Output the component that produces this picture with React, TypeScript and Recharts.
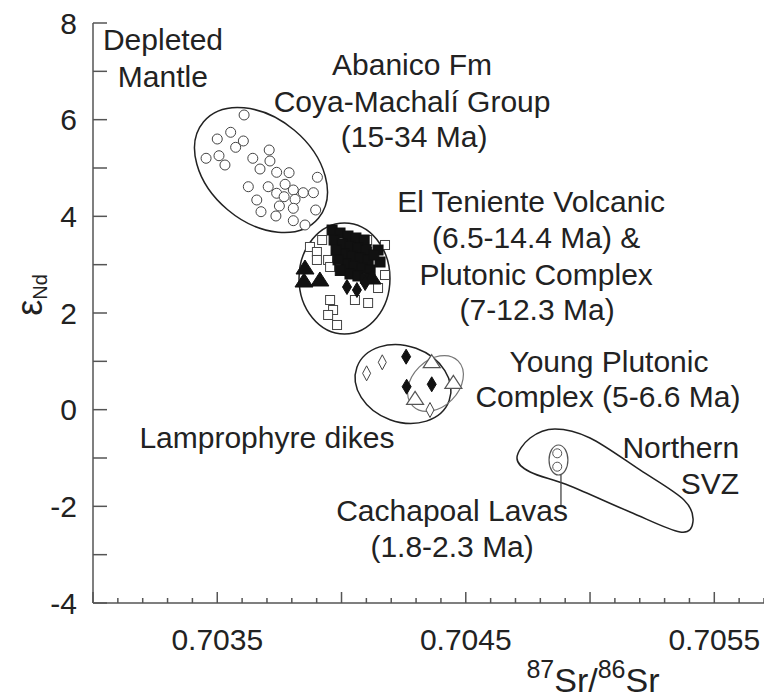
import React from 'react';
import { ScatterChart, Scatter, XAxis, YAxis } from 'recharts';

const FONT = '"Liberation Sans", Arial, Helvetica, sans-serif';
const TEXT = '#222';
const AXIS = '#555';

// ---- axes ----
const xDomain = [0.703, 0.7057];
const xTicks = [0.703, 0.7031, 0.7032, 0.7033, 0.7034, 0.7035, 0.7036, 0.7037, 0.7038, 0.7039, 0.704, 0.7041, 0.7042, 0.7043, 0.7044, 0.7045, 0.7046, 0.7047, 0.7048, 0.7049, 0.705, 0.7051, 0.7052, 0.7053, 0.7054, 0.7055, 0.7056, 0.7057];
const xTickLabels = ['0.7035', '0.7045', '0.7055'];
const yDomain = [-4, 8];
const yTicks = [-4, -3, -2, -1, 0, 1, 2, 3, 4, 5, 6, 7, 8];
const yTickLabels = [-4, -2, 0, 2, 4, 6, 8];

// ---- Abanico Fm / Coya-Machalí Group (open circles) ----
const abanico = [
  { x: 0.703608, y: 6.097 }, { x: 0.703554, y: 5.739 }, { x: 0.7035, y: 5.6 }, { x: 0.703605, y: 5.559 },
  { x: 0.703574, y: 5.428 }, { x: 0.703455, y: 5.201 }, { x: 0.703507, y: 5.254 }, { x: 0.703531, y: 5.062 },
  { x: 0.703643, y: 5.201 }, { x: 0.703709, y: 5.372 }, { x: 0.703712, y: 5.145 }, { x: 0.703672, y: 4.979 },
  { x: 0.703739, y: 4.911 }, { x: 0.703789, y: 4.903 }, { x: 0.703903, y: 4.808 }, { x: 0.703625, y: 4.613 },
  { x: 0.703705, y: 4.613 }, { x: 0.703773, y: 4.663 }, { x: 0.703739, y: 4.477 }, { x: 0.703806, y: 4.545 },
  { x: 0.703846, y: 4.489 }, { x: 0.703887, y: 4.489 }, { x: 0.703769, y: 4.406 }, { x: 0.703813, y: 4.352 },
  { x: 0.703659, y: 4.338 }, { x: 0.70375, y: 4.214 }, { x: 0.703676, y: 4.096 }, { x: 0.703736, y: 4.007 },
  { x: 0.703806, y: 4.166 }, { x: 0.703896, y: 4.131 }, { x: 0.703806, y: 3.91 }, { x: 0.703853, y: 3.821 },
];

// ---- El Teniente Volcanic & Plutonic Complex ----
const tenienteOpenSquares = [
  { x: 0.703873, y: 3.366 }, { x: 0.703901, y: 3.262 }, { x: 0.703901, y: 3.097 }, { x: 0.703946, y: 3.097 },
  { x: 0.703954, y: 2.952 }, { x: 0.703994, y: 2.952 }, { x: 0.704103, y: 3.51 }, { x: 0.704103, y: 3.262 },
  { x: 0.704147, y: 2.517 }, { x: 0.703954, y: 2.269 }, { x: 0.704054, y: 2.269 }, { x: 0.704107, y: 2.207 },
  { x: 0.703966, y: 2.062 }, { x: 0.703946, y: 1.959 }, { x: 0.703982, y: 1.752 }, { x: 0.703922, y: 3.51 },
  { x: 0.704175, y: 3.407 }, { x: 0.704175, y: 2.786 },
];
const tenienteFilledSquares = [
  { x: 0.703962, y: 3.717 }, { x: 0.703994, y: 3.655 }, { x: 0.704026, y: 3.593 }, { x: 0.704058, y: 3.552 },
  { x: 0.704091, y: 3.51 }, { x: 0.70397, y: 3.51 }, { x: 0.704002, y: 3.428 }, { x: 0.704034, y: 3.386 },
  { x: 0.704066, y: 3.345 }, { x: 0.704099, y: 3.303 }, { x: 0.70401, y: 3.221 }, { x: 0.704042, y: 3.179 },
  { x: 0.704074, y: 3.138 }, { x: 0.704107, y: 3.097 }, { x: 0.704018, y: 3.014 }, { x: 0.70405, y: 2.972 },
  { x: 0.704083, y: 2.931 }, { x: 0.704115, y: 2.89 }, { x: 0.704034, y: 2.807 }, { x: 0.704066, y: 2.766 },
  { x: 0.704147, y: 3.303 }, { x: 0.704155, y: 3.055 }, { x: 0.703978, y: 3.303 }, { x: 0.703986, y: 3.1 },
  { x: 0.703995, y: 2.88 }, { x: 0.704096, y: 2.72 }, { x: 0.70413, y: 3.2 },
];
const tenienteTriangles = [
  { x: 0.703853, y: 2.931 }, { x: 0.703849, y: 2.662 }, { x: 0.703913, y: 2.683 }, { x: 0.704123, y: 2.724 },
];
const tenienteDiamonds = [
  { x: 0.704022, y: 2.538 }, { x: 0.704062, y: 2.476 }, { x: 0.704095, y: 2.621 },
];

// ---- Lamprophyre dikes & Young Plutonic Complex ----
const lamprophyreOpenDiamonds = [
  { x: 0.704101, y: 0.752 }, { x: 0.704164, y: 0.98 }, { x: 0.704356, y: -0.007 },
];
const lamprophyreFilledDiamonds = [
  { x: 0.70426, y: 1.096 }, { x: 0.704262, y: 0.475 }, { x: 0.704363, y: 0.525 },
];
const youngPlutonicTriangles = [
  { x: 0.704363, y: 0.992 }, { x: 0.70445, y: 0.566 }, { x: 0.704296, y: 0.235 },
];

// ---- Cachapoal Lavas ----
const cachapoal = [
  { x: 0.704868, y: -0.903 }, { x: 0.704868, y: -1.18 },
];
const cachapoalLeader = [
  { x: 0.704883, y: -1.352 }, { x: 0.704883, y: -1.973 },
];

// ---- field outlines: [major-axis end, major-axis end, minor-axis end] ----
const ellipseAbanico = [
  { x: 0.703445, y: 5.956 }, { x: 0.703907, y: 3.961 }, { x: 0.703542, y: 4.135 },
];
const ellipseTeniente = [
  { x: 0.704012, y: 3.862 }, { x: 0.704012, y: 1.565 }, { x: 0.704195, y: 2.714 },
];
const ellipseLamprophyre = [
  { x: 0.704062, y: 0.878 }, { x: 0.704433, y: 0.183 }, { x: 0.704195, y: -0.208 },
];
const ellipseYoungPlutonic = [
  { x: 0.704469, y: 1.009 }, { x: 0.704287, y: 0.074 }, { x: 0.704444, y: 0.204 },
];
const ellipseCachapoal = [
  { x: 0.704873, y: -0.731 }, { x: 0.704873, y: -1.352 }, { x: 0.704911, y: -1.041 },
];
// Northern SVZ outline (closed smooth curve through these points)
const outlineNorthernSVZ = [
  { x: 0.704706, y: -1.0 }, { x: 0.704759, y: -0.586 }, { x: 0.704859, y: -0.4 }, { x: 0.705, y: -0.586 },
  { x: 0.705201, y: -1.248 }, { x: 0.705378, y: -1.869 }, { x: 0.705414, y: -2.324 }, { x: 0.705362, y: -2.531 },
  { x: 0.705161, y: -2.117 }, { x: 0.70492, y: -1.579 }, { x: 0.704759, y: -1.29 },
];

// ---- text annotations ----
const labels = [
  { x: 0.70304, y: 7.441, text: 'Depleted', anchor: 'start' },
  { x: 0.7031, y: 6.676, text: 'Mantle', anchor: 'start' },
  { x: 0.704284, y: 6.924, text: 'Abanico Fm', anchor: 'middle' },
  { x: 0.704284, y: 6.159, text: 'Coya-Machalí Group', anchor: 'middle' },
  { x: 0.704292, y: 5.434, text: '(15-34 Ma)', anchor: 'middle' },
  { x: 0.704763, y: 4.09, text: 'El Teniente Volcanic', anchor: 'middle' },
  { x: 0.704783, y: 3.345, text: '(6.5-14.4 Ma) &', anchor: 'middle' },
  { x: 0.704783, y: 2.579, text: 'Plutonic Complex', anchor: 'middle' },
  { x: 0.704787, y: 1.855, text: '(7-12.3 Ma)', anchor: 'middle' },
  { x: 0.705076, y: 0.779, text: 'Young Plutonic', anchor: 'middle' },
  { x: 0.705072, y: 0.055, text: 'Complex (5-6.6 Ma)', anchor: 'middle' },
  { x: 0.7037, y: -0.793, text: 'Lamprophyre dikes', anchor: 'middle' },
  { x: 0.7056, y: -1.0, text: 'Northern', anchor: 'end' },
  { x: 0.7056, y: -1.745, text: 'SVZ', anchor: 'end' },
  { x: 0.704445, y: -2.304, text: 'Cachapoal Lavas', anchor: 'middle' },
  { x: 0.704445, y: -3.048, text: '(1.8-2.3 Ma)', anchor: 'middle' },
];

// ---------- renderers ----------
const Nothing = () => <g />;

const makeEllipse = (stroke: string, width: number) => (props: any) => {
  const pts = props.points || [];
  if (pts.length < 3) return <g />;
  const [p1, p2, p3] = pts;
  const cx = (p1.x + p2.x) / 2;
  const cy = (p1.y + p2.y) / 2;
  const rx = Math.hypot(p2.x - p1.x, p2.y - p1.y) / 2;
  const ry = Math.hypot(p3.x - cx, p3.y - cy);
  const ang = (Math.atan2(p2.y - p1.y, p2.x - p1.x) * 180) / Math.PI;
  return (
    <ellipse cx={cx} cy={cy} rx={rx} ry={ry} transform={`rotate(${ang} ${cx} ${cy})`} fill="none" stroke={stroke} strokeWidth={width} />
  );
};

const makeClosedCurve = (stroke: string, width: number) => (props: any) => {
  const pts = props.points || [];
  const n = pts.length;
  if (n < 3) return <g />;
  let d = `M${pts[0].x},${pts[0].y}`;
  for (let i = 0; i < n; i++) {
    const p0 = pts[(i - 1 + n) % n];
    const p1 = pts[i];
    const p2 = pts[(i + 1) % n];
    const p3 = pts[(i + 2) % n];
    const c1x = p1.x + (p2.x - p0.x) / 6;
    const c1y = p1.y + (p2.y - p0.y) / 6;
    const c2x = p2.x - (p3.x - p1.x) / 6;
    const c2y = p2.y - (p3.y - p1.y) / 6;
    d += ` C${c1x},${c1y} ${c2x},${c2y} ${p2.x},${p2.y}`;
  }
  d += ' Z';
  return <path d={d} fill="none" stroke={stroke} strokeWidth={width} />;
};

const OpenCircle = (p: any) => <circle cx={p.cx} cy={p.cy} r={5} fill="#fff" stroke="#444" strokeWidth={1} />;
const SmallCircle = (p: any) => <circle cx={p.cx} cy={p.cy} r={4.5} fill="#fff" stroke="#555" strokeWidth={1} />;
const OpenSquare = (p: any) => <rect x={p.cx - 4.5} y={p.cy - 4.5} width={9} height={9} fill="#fff" stroke="#444" strokeWidth={1} />;
const FilledSquare = (p: any) => <rect x={p.cx - 5} y={p.cy - 5} width={10} height={10} fill="#111" stroke="#111" strokeWidth={1} />;
const FilledTriangle = (p: any) => (
  <path d={`M${p.cx},${p.cy - 8} L${p.cx + 9},${p.cy + 6} L${p.cx - 9},${p.cy + 6} Z`} fill="#111" stroke="#111" />
);
const OpenTriangle = (p: any) => (
  <path d={`M${p.cx},${p.cy - 7} L${p.cx + 8.5},${p.cy + 6} L${p.cx - 8.5},${p.cy + 6} Z`} fill="#fff" stroke="#555" strokeWidth={1.2} />
);
const FilledDiamond = (p: any) => (
  <path d={`M${p.cx},${p.cy - 7.5} L${p.cx + 4.5},${p.cy} L${p.cx},${p.cy + 7.5} L${p.cx - 4.5},${p.cy} Z`} fill="#111" stroke="#111" />
);
const OpenDiamond = (p: any) => (
  <path d={`M${p.cx},${p.cy - 7.5} L${p.cx + 4},${p.cy} L${p.cx},${p.cy + 7.5} L${p.cx - 4},${p.cy} Z`} fill="#fff" stroke="#444" strokeWidth={1} />
);

const LabelShape = (p: any) => {
  const d = p.payload || {};
  return (
    <text x={p.cx} y={p.cy} textAnchor={d.anchor} fontSize={30} fontFamily={FONT} fill={TEXT}>
      {d.text}
    </text>
  );
};

const XTick = (props: any) => {
  const { x, y, payload } = props;
  const v = Number(payload.value);
  const key = v.toFixed(4);
  const major = Math.round(v * 10000) % 5 === 0;
  const len = major ? 11 : 5;
  return (
    <g>
      <line x1={x} x2={x} y1={y} y2={y - len} stroke={AXIS} strokeWidth={1.5} />
      {xTickLabels.includes(key) && (
        <text x={x} y={y + 47} textAnchor="middle" fontSize={30} fontFamily={FONT} fill={TEXT}>
          {key}
        </text>
      )}
    </g>
  );
};

const YTick = (props: any) => {
  const { x, y, payload } = props;
  const v = Number(payload.value);
  return (
    <g>
      <line x1={x} x2={x + 14} y1={y} y2={y} stroke={AXIS} strokeWidth={1.5} />
      {yTickLabels.includes(v) && (
        <text x={x - 16} y={y} dy="0.36em" textAnchor="end" fontSize={30} fontFamily={FONT} fill={TEXT}>
          {String(v)}
        </text>
      )}
    </g>
  );
};

const YTitle = (props: any) => {
  const vb = props.viewBox || { x: 0, y: 23, width: 93, height: 580 };
  const cx = vb.x + 42;
  const cy = vb.y + vb.height / 2 - 18;
  return (
    <text transform={`translate(${cx},${cy}) rotate(-90)`} textAnchor="middle" fontFamily={FONT} fill={TEXT}>
      <tspan fontSize={36}>ε</tspan>
      <tspan fontSize={20} dy={5}>Nd</tspan>
    </text>
  );
};

const XTitle = (props: any) => {
  const vb = props.viewBox || { x: 93, y: 603, width: 671, height: 97 };
  const cx = vb.x + 500;
  const by = vb.y + 89;
  return (
    <text x={cx} y={by} textAnchor="middle" fontFamily={FONT} fill={TEXT}>
      <tspan fontSize={25} dy={-14}>87</tspan>
      <tspan fontSize={34} dy={14}>Sr/</tspan>
      <tspan fontSize={25} dy={-14}>86</tspan>
      <tspan fontSize={34} dy={14}>Sr</tspan>
    </text>
  );
};

export default function App() {
  return (
    <div style={{ position: 'absolute', left: 0, top: 0, width: 764, height: 700, background: '#fff' }}>
      <ScatterChart width={764} height={700} margin={{ top: 23, right: 0, bottom: 0, left: 0 }}>
        <XAxis
          type="number"
          dataKey="x"
          domain={xDomain}
          allowDataOverflow
          ticks={xTicks}
          interval={0}
          tickSize={0}
          tickMargin={0}
          tickLine={false}
          tick={<XTick />}
          height={97}
          axisLine={{ stroke: AXIS, strokeWidth: 1.5 }}
          label={<XTitle />}
        />
        <YAxis
          type="number"
          dataKey="y"
          domain={yDomain}
          allowDataOverflow
          ticks={yTicks}
          interval={0}
          tickSize={0}
          tickMargin={0}
          tickLine={false}
          tick={<YTick />}
          width={93}
          axisLine={{ stroke: AXIS, strokeWidth: 1.5 }}
          label={<YTitle />}
        />
        <Scatter data={ellipseAbanico} shape={Nothing} line={makeEllipse('#222', 1.5)} isAnimationActive={false} />
        <Scatter data={ellipseTeniente} shape={Nothing} line={makeEllipse('#222', 1.5)} isAnimationActive={false} />
        <Scatter data={ellipseLamprophyre} shape={Nothing} line={makeEllipse('#222', 1.5)} isAnimationActive={false} />
        <Scatter data={ellipseYoungPlutonic} shape={Nothing} line={makeEllipse('#777', 1.2)} isAnimationActive={false} />
        <Scatter data={ellipseCachapoal} shape={Nothing} line={makeEllipse('#555', 1.2)} isAnimationActive={false} />
        <Scatter data={outlineNorthernSVZ} shape={Nothing} line={makeClosedCurve('#222', 1.5)} isAnimationActive={false} />
        <Scatter data={cachapoalLeader} shape={Nothing} line={{ stroke: '#444', strokeWidth: 1.3 }} isAnimationActive={false} />
        <Scatter data={abanico} shape={OpenCircle} isAnimationActive={false} />
        <Scatter data={tenienteOpenSquares} shape={OpenSquare} isAnimationActive={false} />
        <Scatter data={tenienteFilledSquares} shape={FilledSquare} isAnimationActive={false} />
        <Scatter data={tenienteTriangles} shape={FilledTriangle} isAnimationActive={false} />
        <Scatter data={tenienteDiamonds} shape={FilledDiamond} isAnimationActive={false} />
        <Scatter data={lamprophyreOpenDiamonds} shape={OpenDiamond} isAnimationActive={false} />
        <Scatter data={lamprophyreFilledDiamonds} shape={FilledDiamond} isAnimationActive={false} />
        <Scatter data={youngPlutonicTriangles} shape={OpenTriangle} isAnimationActive={false} />
        <Scatter data={cachapoal} shape={SmallCircle} isAnimationActive={false} />
        <Scatter data={labels} shape={LabelShape} isAnimationActive={false} />
      </ScatterChart>
    </div>
  );
}
